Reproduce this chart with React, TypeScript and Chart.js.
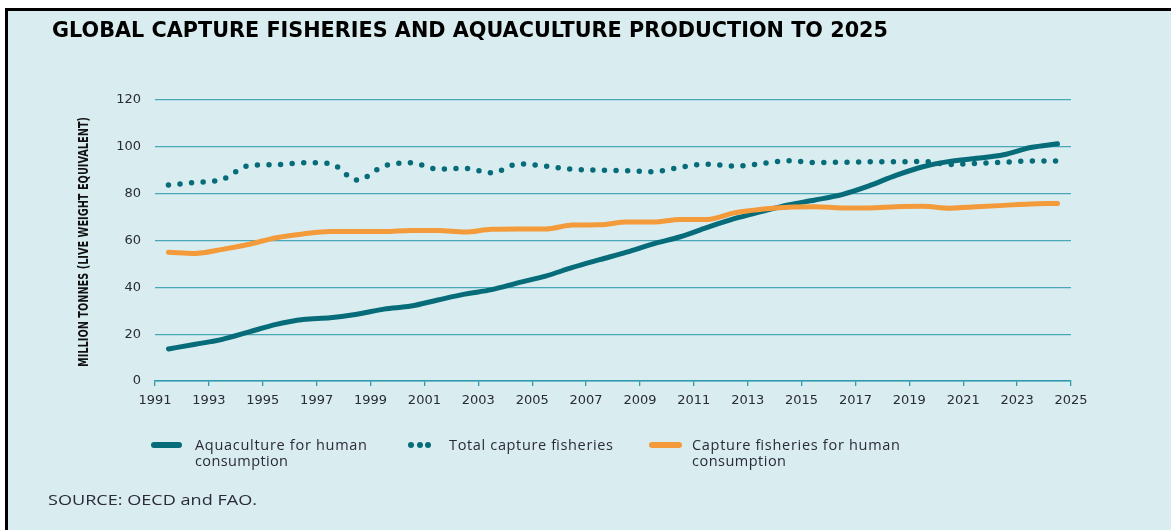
import React, { useEffect, useRef } from "react";
import { Chart, registerables } from "chart.js";

Chart.register(...registerables);

// Data years (plotted at mid-year)
const years = [
  1991, 1992, 1993, 1994, 1995, 1996, 1997, 1998, 1999, 2000, 2001, 2002,
  2003, 2004, 2005, 2006, 2007, 2008, 2009, 2010, 2011, 2012, 2013, 2014,
  2015, 2016, 2017, 2018, 2019, 2020, 2021, 2022, 2023, 2024,
];

const aquaculture = [
  13.7, 15.7, 17.8, 21.0, 24.2, 26.3, 27.0, 28.5, 30.7, 32.0, 34.6, 37.1,
  39.0, 42.0, 44.8, 48.5, 51.8, 55.0, 58.6, 61.6, 65.6, 69.3, 72.3, 75.2,
  77.3, 79.6, 83.3, 87.8, 91.5, 93.8, 95.1, 96.6, 99.7, 101.3,
];

const totalCapture = [
  83.7, 84.8, 86.1, 92.0, 92.4, 93.2, 92.9, 85.8, 91.8, 93.2, 90.5, 90.8,
  88.9, 92.7, 91.8, 90.4, 90.1, 89.8, 89.4, 91.3, 92.6, 91.8, 92.8, 94.1,
  93.3, 93.4, 93.6, 93.6, 93.8, 92.5, 92.9, 93.4, 93.9, 93.9,
];

const captureHuman = [
  55.0, 54.5, 56.2, 58.4, 61.2, 62.8, 63.8, 63.8, 63.8, 64.3, 64.3, 63.6,
  64.8, 64.9, 64.9, 66.6, 66.7, 67.9, 67.9, 69.0, 69.0, 71.8, 73.3, 74.2,
  74.4, 73.9, 73.9, 74.4, 74.6, 73.8, 74.4, 75.0, 75.6, 75.8,
];

const xTickLabels = [
  1991, 1993, 1995, 1997, 1999, 2001, 2003, 2005, 2007, 2009, 2011, 2013,
  2015, 2017, 2019, 2021, 2023, 2025,
];

const TEAL = "#066c79";
const ORANGE = "#f39a3b";
const BG = "#d9edf0";
const TEXT = "#2a2a38";
const FONT = "'Open Sans', 'Lato', sans-serif";
const TICKFONT = "'DejaVu Sans', sans-serif";

const toPoints = (vals: number[]) =>
  vals.map((v, i) => ({ x: years[i] + 0.5, y: v }));

export default function App() {
  const canvasRef = useRef<HTMLCanvasElement | null>(null);

  useEffect(() => {
    if (!canvasRef.current) return;
    const chart = new Chart(canvasRef.current, {
      type: "line",
      data: {
        datasets: [
          {
            label: "Total capture fisheries",
            data: toPoints(totalCapture),
            borderColor: TEAL,
            borderWidth: 5.5,
            borderDash: [0, 11.6],
            borderCapStyle: "round",
            pointRadius: 0,
            cubicInterpolationMode: "monotone",
            fill: false,
          },
          {
            label: "Capture fisheries for human consumption",
            data: toPoints(captureHuman),
            borderColor: ORANGE,
            borderWidth: 5,
            borderCapStyle: "round",
            borderJoinStyle: "round",
            pointRadius: 0,
            cubicInterpolationMode: "monotone",
            fill: false,
          },
          {
            label: "Aquaculture for human consumption",
            data: toPoints(aquaculture),
            borderColor: TEAL,
            borderWidth: 5,
            borderCapStyle: "round",
            borderJoinStyle: "round",
            pointRadius: 0,
            cubicInterpolationMode: "monotone",
            fill: false,
          },
        ],
      },
      options: {
        responsive: false,
        animation: false,
        layout: { padding: { left: 0, right: 100, top: 100, bottom: 0 } },
        plugins: {
          legend: { display: false },
          tooltip: { enabled: false },
          title: { display: false },
        },
        scales: {
          x: {
            type: "linear",
            min: 1991,
            max: 2025,
            afterBuildTicks: (scale: any) => {
              scale.ticks = xTickLabels.map((v) => ({ value: v }));
            },
            afterFit: (scale: any) => {
              scale.height = 39;
            },
            ticks: {
              callback: (v: any) => String(v),
              font: { family: TICKFONT, size: 13 },
              color: TEXT,
              padding: 7,
              maxRotation: 0,
              autoSkip: false,
            },
            grid: {
              display: true,
              drawOnChartArea: false,
              drawTicks: true,
              tickLength: 5,
              color: "#2f9aab",
              lineWidth: 1.3,
            },
            border: { display: true, color: "#2f9aab", width: 1.5 },
          },
          y: {
            min: 0,
            max: 120,
            afterFit: (scale: any) => {
              scale.width = 155;
            },
            ticks: {
              stepSize: 20,
              font: { family: TICKFONT, size: 13 },
              color: TEXT,
              padding: 14,
            },
            grid: {
              color: "#4aa7b7",
              lineWidth: 1.2,
              drawTicks: false,
            },
            border: { display: false },
          },
        },
      },
    } as any);
    return () => chart.destroy();
  }, []);

  const sym = (left: number, w: number, color: string): React.CSSProperties => ({
    position: "absolute",
    left,
    top: 442,
    width: w,
    height: 6,
    borderRadius: 3,
    background: color,
  });

  return (
    <div
      style={{
        position: "fixed",
        left: 0,
        top: 0,
        width: 1171,
        height: 530,
        background: "#ffffff",
        overflow: "hidden",
      }}
    >
      <div
        style={{
          position: "absolute",
          left: 5,
          top: 8,
          width: 1166,
          height: 522,
          background: BG,
        }}
      />
      <div
        style={{
          position: "absolute",
          left: 5,
          top: 8,
          width: 1166,
          height: 3,
          background: "#000",
        }}
      />
      <div
        style={{
          position: "absolute",
          left: 5,
          top: 8,
          width: 3,
          height: 522,
          background: "#000",
        }}
      />
      <canvas
        ref={canvasRef}
        width={1171}
        height={420}
        style={{ position: "absolute", left: 0, top: 0, width: 1171, height: 420 }}
      />

      {/* Legend symbols */}
      <div style={sym(151, 31, TEAL)} />
      {[0, 1, 2].map((i) => (
        <div
          key={i}
          style={{
            position: "absolute",
            left: 408 + i * 8.5,
            top: 442,
            width: 6,
            height: 6,
            borderRadius: 3,
            background: TEAL,
          }}
        />
      ))}
      <div style={sym(649, 33, ORANGE)} />

      <svg
        width={1171}
        height={530}
        style={{ position: "absolute", left: 0, top: 0, pointerEvents: "none" }}
      >
        <text
          x={52}
          y={37}
          textLength={836}
          lengthAdjust="spacingAndGlyphs"
          fontFamily="'DejaVu Sans', sans-serif"
          fontWeight={700}
          fontSize={20.5}
          fill="#000"
        >
          GLOBAL CAPTURE FISHERIES AND AQUACULTURE PRODUCTION TO 2025
        </text>
        <text
          transform="translate(88,242) rotate(-90)"
          textAnchor="middle"
          textLength={250}
          lengthAdjust="spacingAndGlyphs"
          fontFamily="'DejaVu Sans Condensed', 'DejaVu Sans', sans-serif"
          fontWeight={700}
          fontSize={14}
          fill="#111"
        >
          MILLION TONNES (LIVE WEIGHT EQUIVALENT)
        </text>

        <g fontFamily={FONT} fontSize={14.5} fill={TEXT}>
          <text x={195} y={450} textLength={172} lengthAdjust="spacing">
            Aquaculture for human
          </text>
          <text x={195} y={466} textLength={93} lengthAdjust="spacing">
            consumption
          </text>
          <text x={449} y={450} textLength={164} lengthAdjust="spacing">
            Total capture fisheries
          </text>
          <text x={692} y={450} textLength={208} lengthAdjust="spacing">
            Capture fisheries for human
          </text>
          <text x={692} y={466} textLength={94} lengthAdjust="spacing">
            consumption
          </text>
          <text x={48} y={505} textLength={209} lengthAdjust="spacingAndGlyphs">
            SOURCE: OECD and FAO.
          </text>
        </g>
      </svg>
    </div>
  );
}
